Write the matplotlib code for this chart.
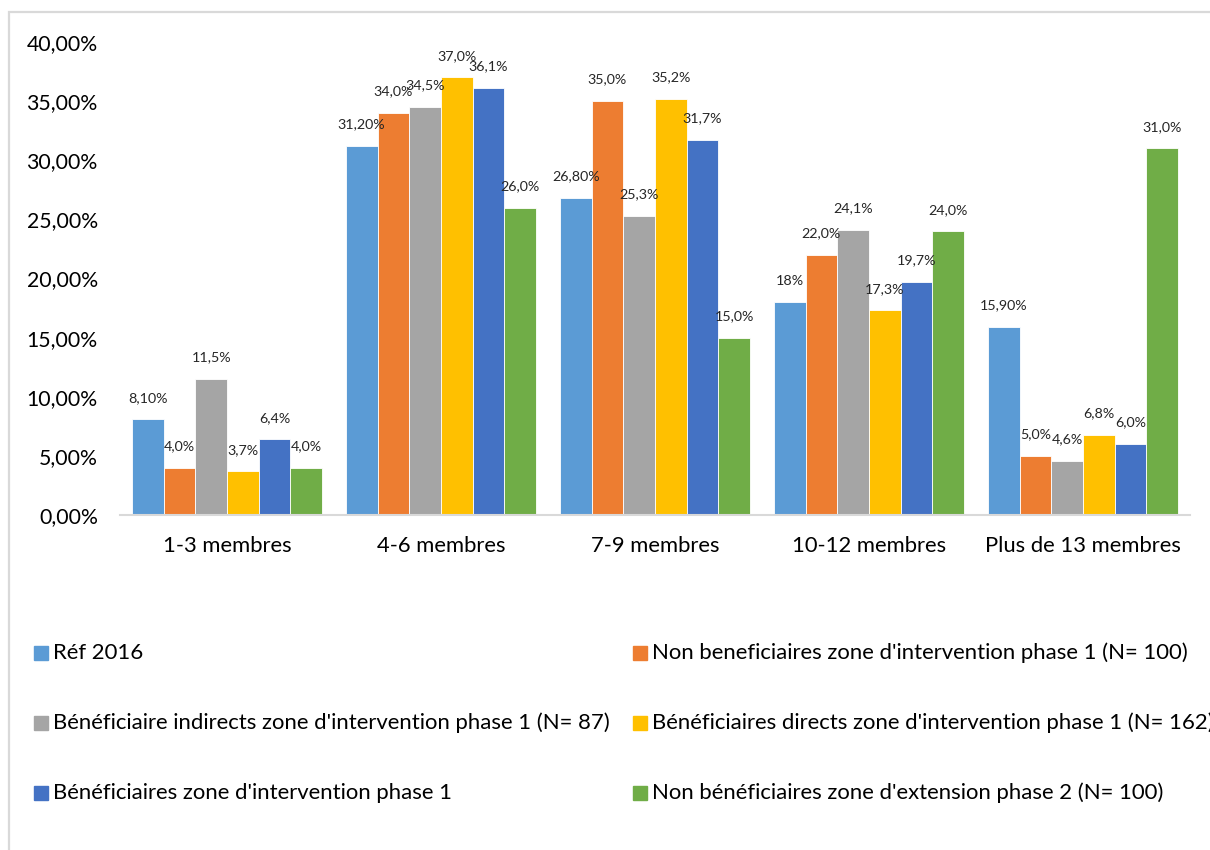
import matplotlib.pyplot as plt
from matplotlib.patches import Rectangle
import numpy as np

plt.rcParams['font.family'] = ['Lato', 'DejaVu Sans']

categories = ["1-3 membres", "4-6 membres", "7-9 membres", "10-12 membres", "Plus de 13 membres"]

series_names = [
    "Réf 2016",
    "Non beneficiaires zone d'intervention phase 1 (N= 100)",
    "Bénéficiaire indirects zone d'intervention phase 1 (N= 87)",
    "Bénéficiaires directs zone d'intervention phase 1 (N= 162)",
    "Bénéficiaires zone d'intervention phase 1",
    "Non bénéficiaires zone d'extension phase 2 (N= 100)",
]
colors = ["#5B9BD5", "#ED7D31", "#A5A5A5", "#FFC000", "#4472C4", "#70AD47"]

ref_2016 = [8.1, 31.2, 26.8, 18.0, 15.9]
non_benef_p1 = [4.0, 34.0, 35.0, 22.0, 5.0]
benef_indirects = [11.5, 34.5, 25.3, 24.1, 4.6]
benef_directs = [3.7, 37.0, 35.2, 17.3, 6.8]
benef_zone_p1 = [6.4, 36.1, 31.7, 19.7, 6.0]
non_benef_ext_p2 = [4.0, 26.0, 15.0, 24.0, 31.0]

ref_2016_labels = ["8,10%", "31,20%", "26,80%", "18%", "15,90%"]

values = [ref_2016, non_benef_p1, benef_indirects, benef_directs, benef_zone_p1, non_benef_ext_p2]


def fmt(v):
    return f"{v:.1f}%".replace(".", ",")


labels = [ref_2016_labels] + [[fmt(v) for v in s] for s in values[1:]]

W, H = 1210, 850
fig = plt.figure(figsize=(W / 100, H / 100), dpi=100)
ax = fig.add_axes([120 / W, 1 - 515 / H, 1070 / W, 473 / H])

x = np.arange(len(categories))
bw = 0.89 / 6
for i, (s, c, lab) in enumerate(zip(values, colors, labels)):
    pos = x - 0.445 + bw * (i + 0.5)
    bars = ax.bar(pos, s, bw, color=c, edgecolor="white", linewidth=0.6, zorder=2)
    for b, t in zip(bars, lab):
        ax.annotate(t, (b.get_x() + b.get_width() / 2, b.get_height()),
                    xytext=(0, 15.5), textcoords="offset points",
                    ha="center", va="center", fontsize=10.3, color="#262626")

ax.set_xlim(-0.5, len(categories) - 0.5)
ax.set_ylim(0, 40)
ax.set_yticks(np.arange(0, 41, 5))
ax.set_yticklabels([f"{v},00%" for v in range(0, 41, 5)])
ax.set_xticks(x)
ax.set_xticklabels(categories)
ax.tick_params(axis="y", length=0, pad=16, labelsize=15.3, labelcolor="#000000")
ax.tick_params(axis="x", length=0, pad=15, labelsize=15.8, labelcolor="#000000")
for sp in ["top", "right", "left"]:
    ax.spines[sp].set_visible(False)
ax.spines["bottom"].set_color("#d9d9d9")
ax.spines["bottom"].set_linewidth(1.5)

# chart border (clipped on right and bottom)
fig.patches.append(Rectangle((9 / W, -0.1), 1.2, 1 - 12 / H + 0.1,
                             transform=fig.transFigure, fill=False,
                             edgecolor="#d9d9d9", linewidth=1.6))

# legend, 2 columns x 3 rows
col_x = [34, 633]
row_y = [653, 723, 793]
for i, (name, c) in enumerate(zip(series_names, colors)):
    cx = col_x[i % 2]
    cy = row_y[i // 2]
    fig.patches.append(Rectangle((cx / W, 1 - (cy + 7) / H), 14 / W, 14 / H,
                                 transform=fig.transFigure, color=c))
    fig.text((cx + 19) / W, 1 - cy / H, name, fontsize=15.95, va="center",
             ha="left", color="#000000")

fig.savefig("out.png", dpi=100)
